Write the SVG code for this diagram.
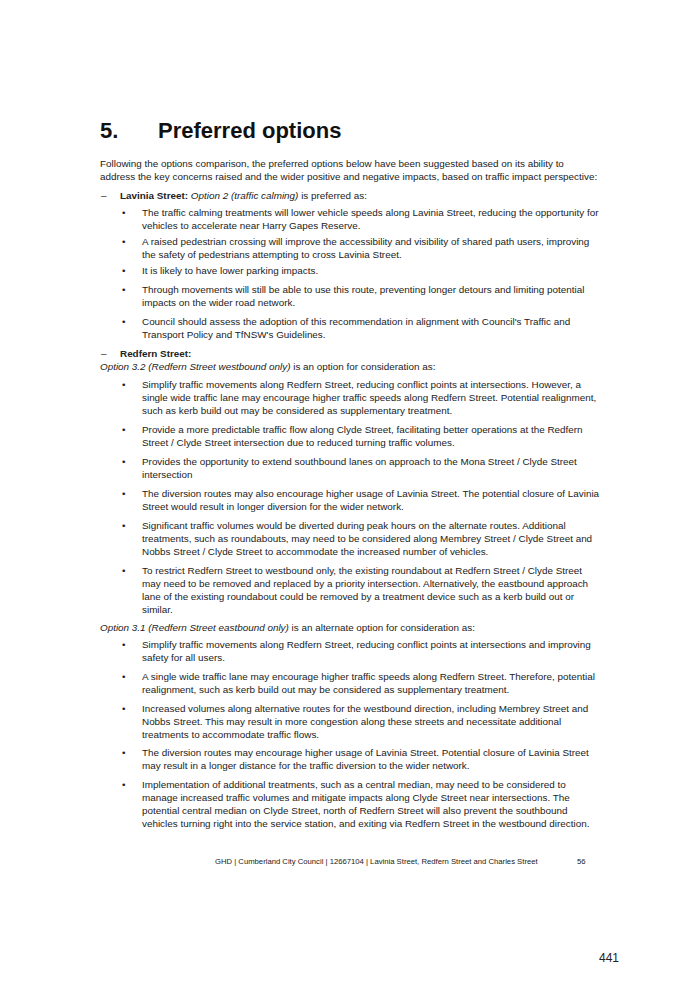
<svg xmlns="http://www.w3.org/2000/svg" width="682" height="989" viewBox="0 0 682 989">
<style>
text{font-family:"Liberation Sans",Arial,sans-serif;font-size:9.9px;fill:#222}
.h{font-size:22px;font-weight:bold;fill:#111}
.b{font-weight:bold}
.i{font-style:italic}
.f{font-size:7.7px}
.p{font-size:12px}
</style>
<rect width="682" height="989" fill="#fff"/>
<text class="h" x="100" y="138">5.</text>
<text class="h" x="158" y="138">Preferred options</text>
<text x="100" y="167">Following the options comparison, the preferred options below have been suggested based on its ability to</text>
<text x="100" y="180">address the key concerns raised and the wider positive and negative impacts, based on traffic impact perspective:</text>
<text x="101" y="199">–</text>
<text x="120" y="199"><tspan class="b">Lavinia Street:</tspan> <tspan class="i">Option 2 (traffic calming)</tspan> is preferred as:</text>
<g>
<text x="122" y="216">•</text><text x="142" y="216">The traffic calming treatments will lower vehicle speeds along Lavinia Street, reducing the opportunity for</text>
<text x="142" y="229">vehicles to accelerate near Harry Gapes Reserve.</text>
<text x="122" y="245">•</text><text x="142" y="245">A raised pedestrian crossing will improve the accessibility and visibility of shared path users, improving</text>
<text x="142" y="258">the safety of pedestrians attempting to cross Lavinia Street.</text>
<text x="122" y="274">•</text><text x="142" y="274">It is likely to have lower parking impacts.</text>
<text x="122" y="293">•</text><text x="142" y="293">Through movements will still be able to use this route, preventing longer detours and limiting potential</text>
<text x="142" y="306">impacts on the wider road network.</text>
<text x="122" y="325">•</text><text x="142" y="325">Council should assess the adoption of this recommendation in alignment with Council's Traffic and</text>
<text x="142" y="338">Transport Policy and TfNSW's Guidelines.</text>
</g>
<text x="101" y="357">–</text>
<text class="b" x="120" y="357">Redfern Street:</text>
<text x="100" y="370"><tspan class="i">Option 3.2 (Redfern Street westbound only)</tspan> is an option for consideration as:</text>
<g>
<text x="122" y="388">•</text><text x="142" y="388">Simplify traffic movements along Redfern Street, reducing conflict points at intersections. However, a</text>
<text x="142" y="401">single wide traffic lane may encourage higher traffic speeds along Redfern Street. Potential realignment,</text>
<text x="142" y="414">such as kerb build out may be considered as supplementary treatment.</text>
<text x="122" y="433">•</text><text x="142" y="433">Provide a more predictable traffic flow along Clyde Street, facilitating better operations at the Redfern</text>
<text x="142" y="446">Street / Clyde Street intersection due to reduced turning traffic volumes.</text>
<text x="122" y="465">•</text><text x="142" y="465">Provides the opportunity to extend southbound lanes on approach to the Mona Street / Clyde Street</text>
<text x="142" y="478">intersection</text>
<text x="122" y="497">•</text><text x="142" y="497">The diversion routes may also encourage higher usage of Lavinia Street. The potential closure of Lavinia</text>
<text x="142" y="510">Street would result in longer diversion for the wider network.</text>
<text x="122" y="529">•</text><text x="142" y="529">Significant traffic volumes would be diverted during peak hours on the alternate routes. Additional</text>
<text x="142" y="542">treatments, such as roundabouts, may need to be considered along Membrey Street / Clyde Street and</text>
<text x="142" y="555">Nobbs Street / Clyde Street to accommodate the increased number of vehicles.</text>
<text x="122" y="574">•</text><text x="142" y="574">To restrict Redfern Street to westbound only, the existing roundabout at Redfern Street / Clyde Street</text>
<text x="142" y="587">may need to be removed and replaced by a priority intersection. Alternatively, the eastbound approach</text>
<text x="142" y="600">lane of the existing roundabout could be removed by a treatment device such as a kerb build out or</text>
<text x="142" y="613">similar.</text>
</g>
<text x="100" y="631"><tspan class="i">Option 3.1 (Redfern Street eastbound only)</tspan> is an alternate option for consideration as:</text>
<g>
<text x="122" y="648">•</text><text x="142" y="648">Simplify traffic movements along Redfern Street, reducing conflict points at intersections and improving</text>
<text x="142" y="661">safety for all users.</text>
<text x="122" y="680">•</text><text x="142" y="680">A single wide traffic lane may encourage higher traffic speeds along Redfern Street. Therefore, potential</text>
<text x="142" y="693">realignment, such as kerb build out may be considered as supplementary treatment.</text>
<text x="122" y="712">•</text><text x="142" y="712">Increased volumes along alternative routes for the westbound direction, including Membrey Street and</text>
<text x="142" y="725">Nobbs Street. This may result in more congestion along these streets and necessitate additional</text>
<text x="142" y="738">treatments to accommodate traffic flows.</text>
<text x="122" y="756">•</text><text x="142" y="756">The diversion routes may encourage higher usage of Lavinia Street. Potential closure of Lavinia Street</text>
<text x="142" y="769">may result in a longer distance for the traffic diversion to the wider network.</text>
<text x="122" y="788">•</text><text x="142" y="788">Implementation of additional treatments, such as a central median, may need to be considered to</text>
<text x="142" y="801">manage increased traffic volumes and mitigate impacts along Clyde Street near intersections. The</text>
<text x="142" y="814">potential central median on Clyde Street, north of Redfern Street will also prevent the southbound</text>
<text x="142" y="827">vehicles turning right into the service station, and exiting via Redfern Street in the westbound direction.</text>
</g>
<text class="f" x="215" y="864">GHD | Cumberland City Council | 12667104 | Lavinia Street, Redfern Street and Charles Street</text>
<text class="f" x="577" y="864">56</text>
<text class="p" x="599" y="962">441</text>
</svg>
